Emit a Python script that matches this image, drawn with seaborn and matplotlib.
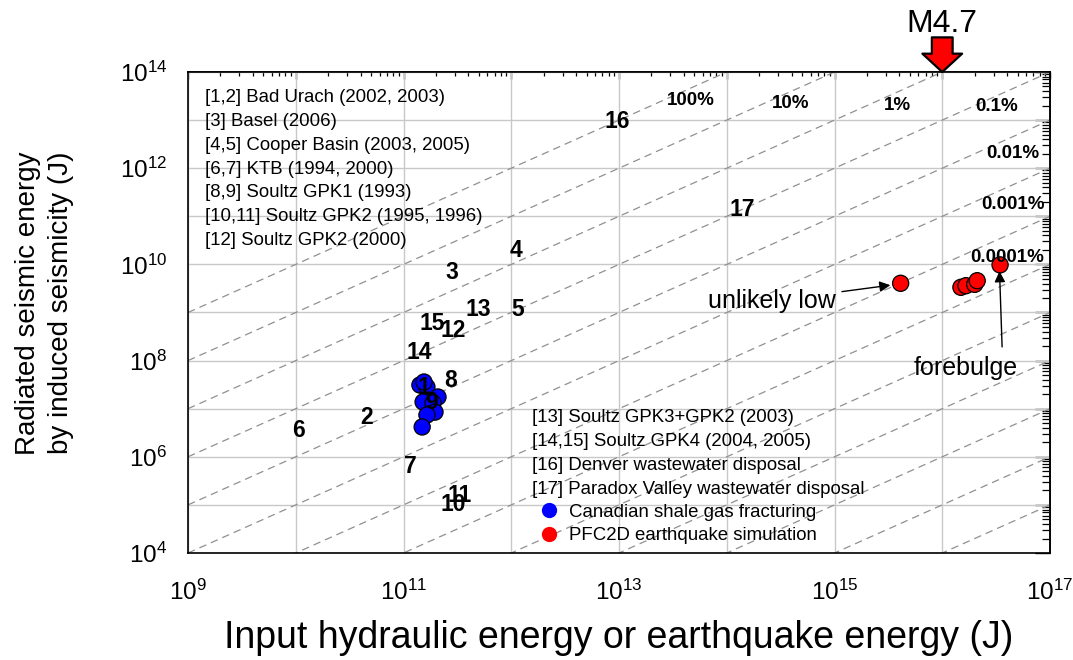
import numpy as np
import pandas as pd
import matplotlib
matplotlib.use("Agg")
import matplotlib.pyplot as plt
import seaborn as sns
from matplotlib.ticker import FixedLocator, NullFormatter, FuncFormatter

# ---------------- data ----------------
case_labels = ["1", "2", "3", "4", "5", "6", "7", "8", "9", "10", "11",
               "12", "13", "14", "15", "16", "17"]
case_x = [1.55e11, 4.57e10, 2.82e11, 1.10e12, 1.15e12, 1.05e10, 1.15e11,
          2.75e11, 1.82e11, 2.9e11, 3.3e11, 2.88e11, 4.9e11, 1.41e11,
          1.86e11, 9.55e12, 1.38e14]
case_y = [2.8e7, 6.5e6, 6.9e9, 1.91e10, 1.17e9, 3.5e6, 6.2e5,
          3.8e7, 1.32e7, 1.0e5, 1.55e5, 4.2e8, 1.17e9, 1.45e8,
          6.0e8, 9.55e12, 1.41e11]

shale_x = [1.42e11, 1.65e11, 1.55e11, 2.09e11, 1.52e11, 1.88e11, 1.96e11,
           1.65e11, 1.49e11]
shale_y = [3.11e7, 2.83e7, 3.59e7, 1.75e7, 1.38e7, 1.31e7, 8.5e6,
           7.4e6, 4.17e6]

pfc_x = [4.11e15, 1.49e16, 1.66e16, 2.0e16, 2.11e16, 3.44e16]
pfc_y = [4.05e9, 3.34e9, 3.61e9, 3.85e9, 4.58e9, 9.77e9]

efficiencies = [1, 1e-1, 1e-2, 1e-3, 1e-4, 1e-5, 1e-6, 1e-7, 1e-8,
                1e-9, 1e-10, 1e-11, 1e-12]
eff_labels = ["100%", "10%", "1%", "0.1%", "0.01%", "0.001%", "0.0001%"]
eff_label_x = [4.6e13, 3.9e14, 3.8e15, 3.2e16, 4.5e16, 4.5e16, 4.0e16]
eff_label_y = [2.5e13, 2.2e13, 2.0e13, 1.9e13, 2.0e12, 1.75e11, 1.37e10]

x_decades = [1e9, 1e10, 1e11, 1e12, 1e13, 1e14, 1e15, 1e16, 1e17]
y_decades = [1e4, 1e5, 1e6, 1e7, 1e8, 1e9, 1e10, 1e11, 1e12, 1e13, 1e14]

legend_top = ["[1,2] Bad Urach (2002, 2003)",
              "[3] Basel (2006)",
              "[4,5] Cooper Basin (2003, 2005)",
              "[6,7] KTB (1994, 2000)",
              "[8,9] Soultz GPK1 (1993)",
              "[10,11] Soultz GPK2 (1995, 1996)",
              "[12] Soultz GPK2 (2000)"]
legend_bottom = ["[13] Soultz GPK3+GPK2 (2003)",
                 "[14,15] Soultz GPK4 (2004, 2005)",
                 "[16] Denver wastewater disposal",
                 "[17] Paradox Valley wastewater disposal"]
group_names = ["Canadian shale gas fracturing", "PFC2D earthquake simulation"]
group_colors = ["#0000ff", "#ff0000"]

# ---------------- style ----------------
sns.set_style("white")
plt.rcParams["font.family"] = ["Liberation Sans", "DejaVu Sans"]
plt.rcParams["mathtext.fontset"] = "custom"
plt.rcParams["mathtext.rm"] = "Liberation Sans"
plt.rcParams["mathtext.it"] = "Liberation Sans:italic"
plt.rcParams["mathtext.bf"] = "Liberation Sans:bold"
for k in ["text.color", "axes.labelcolor", "xtick.color", "ytick.color",
          "axes.edgecolor"]:
    plt.rcParams[k] = "black"

fig = plt.figure(figsize=(10.73, 6.6), dpi=100)
ax = fig.add_axes([188 / 1073, 1 - 553 / 660, 862 / 1073, 481 / 660])
ax.set_xscale("log")
ax.set_yscale("log")
ax.set_xlim(1e9, 1e17)
ax.set_ylim(1e4, 1e14)

# grid
ax.grid(True, which="major", color="#c8c8c8", lw=1.0, zorder=0)
ax.set_axisbelow(True)

# efficiency lines
xx = np.array([1e9, 1e17])
for p in efficiencies:
    ax.plot(xx, p * xx, ls=(0, (6, 4)), color="#909090", lw=0.9, zorder=1)

for lab, lx, ly in zip(eff_labels, eff_label_x, eff_label_y):
    ax.text(lx, ly, lab, ha="center", va="center", fontsize=13.5,
            fontweight="bold", zorder=4)

# scatter points
df = pd.DataFrame({
    "x": shale_x + pfc_x,
    "y": shale_y + pfc_y,
    "group": [group_names[0]] * len(shale_x) + [group_names[1]] * len(pfc_x),
})
sns.scatterplot(data=df, x="x", y="y", hue="group", hue_order=group_names,
                palette=dict(zip(group_names, group_colors)), s=135,
                edgecolor="black", linewidth=0.9, ax=ax, zorder=3)

# numbered case labels
for lab, cx, cy in zip(case_labels, case_x, case_y):
    ax.text(cx, cy, lab, ha="center", va="center", fontsize=16.5,
            fontweight="bold", zorder=5)

# text blocks
for i, t in enumerate(legend_top):
    ax.text(0.0197, 0.946 - i * 0.0493, t, transform=ax.transAxes,
            ha="left", va="center", fontsize=13.4, zorder=5)
for i, t in enumerate(legend_bottom):
    ax.text(0.399, 0.281 - i * 0.0497, t, transform=ax.transAxes,
            ha="left", va="center", fontsize=13.4, zorder=5)

handles, labels = ax.get_legend_handles_labels()
leg = ax.legend(handles, labels, loc="upper left", bbox_to_anchor=(0.408, 0.102),
                frameon=False, fontsize=13.4, handletextpad=0.55,
                borderpad=0, labelspacing=0.33, handlelength=1.0,
                borderaxespad=0)
for h in leg.legend_handles:
    h.set_markeredgecolor("none")
    h.set_markersize(11)

# annotations
ax.annotate("unlikely low", xy=(3.3e15, 3.7e9), xytext=(2.63e14, 1.74e9),
            ha="center", va="center", fontsize=18,
            arrowprops=dict(arrowstyle="-|>", color="black", lw=1.0,
                            mutation_scale=16, shrinkA=2, shrinkB=0))
ax.annotate("forebulge", xy=(3.4e16, 7.2e9), xytext=(1.66e16, 7.1e7),
            ha="center", va="center", fontsize=18,
            arrowprops=dict(arrowstyle="-|>", color="black", lw=1.0,
                            mutation_scale=16, shrinkA=4, shrinkB=0,
                            relpos=(0.85, 1.0)))

# M4.7 marker above axes
ax.annotate("", xy=(1e16, 1e14), xytext=(1e16, 10 ** 14.72),
            annotation_clip=False,
            arrowprops=dict(arrowstyle="simple,head_length=0.6,head_width=1.3,tail_width=0.68",
                            fc="#ff0000", ec="black", lw=1.6, mutation_scale=22,
                            shrinkA=0, shrinkB=0))
ax.text(1e16, 10 ** 14.99, "M4.7", ha="center", va="center", fontsize=23,
        clip_on=False)

# ticks
def fmt_x(v, pos):
    e = int(round(np.log10(v)))
    return r"$\mathregular{10^{%d}}$" % e if e % 2 == 1 else ""

def fmt_y(v, pos):
    e = int(round(np.log10(v)))
    return r"$\mathregular{10^{%d}}$" % e if e % 2 == 0 else ""

def minor_positions(decades):
    return [d * m for d in decades[:-1] for m in range(2, 10)]

ax.xaxis.set_major_locator(FixedLocator(x_decades))
ax.yaxis.set_major_locator(FixedLocator(y_decades))
ax.xaxis.set_minor_locator(FixedLocator(minor_positions(x_decades)))
ax.yaxis.set_minor_locator(FixedLocator(minor_positions(y_decades)))
ax.xaxis.set_major_formatter(FuncFormatter(fmt_x))
ax.yaxis.set_major_formatter(FuncFormatter(fmt_y))
ax.xaxis.set_minor_formatter(NullFormatter())
ax.yaxis.set_minor_formatter(NullFormatter())

ax.tick_params(which="major", direction="out", length=11, width=1.0,
               labelsize=17.5, color="black")
ax.tick_params(axis="x", which="major", pad=8)
ax.tick_params(axis="y", which="major", pad=4)
ax.tick_params(which="minor", direction="out", length=5.5, width=0.9,
               color="black")
ax.tick_params(top=False, right=False, which="both")

for sp in ax.spines.values():
    sp.set_color("black")
    sp.set_linewidth(1.2)

# inward ticks on top and right
secx = ax.secondary_xaxis("top")
secx.set_xscale("log")
secx.xaxis.set_major_locator(FixedLocator(x_decades))
secx.xaxis.set_minor_locator(FixedLocator(minor_positions(x_decades)))
secx.xaxis.set_major_formatter(NullFormatter())
secx.xaxis.set_minor_formatter(NullFormatter())
secx.tick_params(which="major", direction="in", length=5, width=1.0)
secx.tick_params(which="minor", direction="in", length=3.2, width=0.9)
secx.spines["top"].set_linewidth(1.2)

secy = ax.secondary_yaxis("right")
secy.set_yscale("log")
secy.yaxis.set_major_locator(FixedLocator(y_decades))
secy.yaxis.set_minor_locator(FixedLocator(minor_positions(y_decades)))
secy.yaxis.set_major_formatter(NullFormatter())
secy.yaxis.set_minor_formatter(NullFormatter())
secy.tick_params(which="major", direction="in", length=11, width=1.0)
secy.tick_params(which="minor", direction="in", length=5.5, width=0.9)
secy.spines["right"].set_linewidth(1.2)

ax.set_xlabel("Input hydraulic energy or earthquake energy (J)", fontsize=27)
ax.xaxis.set_label_coords(0.5, -0.14)
ax.set_ylabel("Radiated seismic energy\nby induced seismicity (J)", fontsize=20,
              linespacing=1.35)
ax.yaxis.set_label_coords(-0.132, 0.52)

fig.savefig("out.png", dpi=100)
